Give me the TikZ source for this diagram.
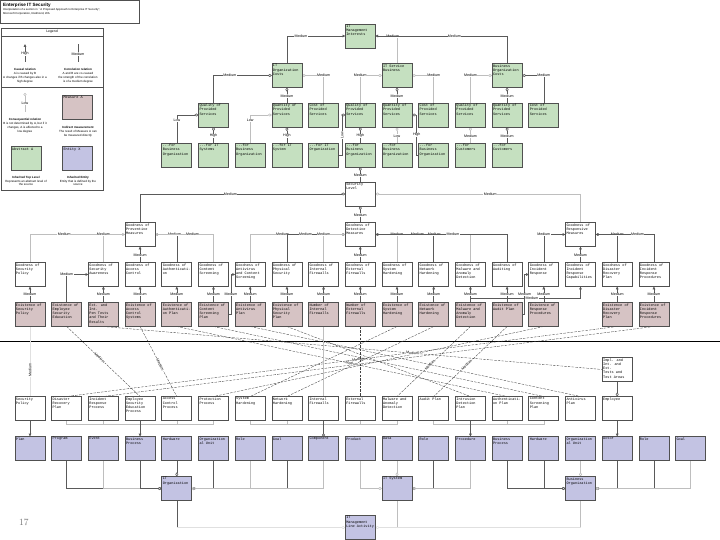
\documentclass[tikz,border=0pt]{standalone}
\usepackage{fontspec}
\newfontfamily\boxfont{Liberation Mono}
\newfontfamily\legendfont{Liberation Sans}
\usetikzlibrary{arrows.meta}
\definecolor{absGreen}{RGB}{197,224,192}
\definecolor{measPink}{RGB}{214,195,196}
\definecolor{entBlue}{RGB}{195,195,227}
\definecolor{boxGray}{RGB}{80,80,80}
\definecolor{edgeDark}{RGB}{90,90,90}
\definecolor{edgeLight}{RGB}{190,190,190}
\tikzset{
    BOX/.style={draw=boxGray, line width=0.7pt, shape=rectangle, inner sep=1pt,
        outer sep=0pt, font={\boxfont\fontsize{3.55}{4.3}\selectfont},
        execute at begin node={\begin{minipage}[t][22pt][t]{28pt}\raggedright},
        execute at end node={\end{minipage}}},
    GREEN_BOX/.style={BOX, fill=absGreen},
    PINK_BOX/.style={BOX, fill=measPink},
    BLUE_BOX/.style={BOX, fill=entBlue},
    WHITE_BOX/.style={BOX, fill=white},
    FRAME/.style={draw=boxGray, line width=0.5pt, shape=rectangle, inner sep=0pt},
    LEGEND_TEXT/.style={font={\legendfont\fontsize{3}{3.9}\selectfont}, align=center, inner sep=0pt},
    LABEL/.style={font={\legendfont\fontsize{3.6}{4}\selectfont}, fill=white, inner sep=0.4pt},
    EDGE/.style={draw=edgeDark, line width=0.6pt},
    LIGHT_EDGE/.style={draw=edgeLight, line width=0.6pt},
    FAINT_EDGE/.style={draw=black!12, line width=0.5pt},
    DASHED_EDGE/.style={draw=black!75, line width=0.35pt, dash pattern=on 2.5pt off 1.2pt},
    SPLIT_LINE/.style={draw=black, line width=1pt},
    CAUSE/.style={-{Triangle[length=2.8pt,width=2.6pt]}},
    COR/.style={-{Diamond[open,length=4.2pt,width=3pt]}},
    LOW/.style={-{Circle[open,length=3pt]}}
}
\pgfdeclarelayer{edgelayer}
\pgfdeclarelayer{nodelayer}
\pgfsetlayers{edgelayer,nodelayer,main}

\begin{document}
\begin{tikzpicture}[x=1pt, y=-1pt]
    \useasboundingbox (0,0) rectangle (720,540);
    \begin{pgfonlayer}{nodelayer}
        % title and legend
        \node [FRAME, minimum width=138.5pt, minimum height=22.5pt] (130) at (69.75, 11.75) {};
        \node [anchor=west, inner sep=0pt, font={\legendfont\bfseries\fontsize{4.6}{5}\selectfont}] (131) at (3, 5) {Enterprise IT Security};
        \node [anchor=north west, inner sep=0pt, align=left, font={\legendfont\fontsize{2.8}{4}\selectfont}] (132) at (3, 8) {Interpretation of a section in ``A Proposed Approach to Enterprise IT Security'',\\Microsoft Corporation, Redmond, WA};
        \node [FRAME, minimum width=102pt, minimum height=162pt] (120) at (52, 109) {};
        \node [LEGEND_TEXT, font={\legendfont\fontsize{3.4}{4}\selectfont}] (121) at (52, 31.5) {Legend};
        \coordinate (122) at (1, 36);
        \coordinate (123) at (103, 36);
        \coordinate (124) at (1, 87);
        \coordinate (125) at (103, 87);
        \coordinate (133) at (25, 44);
        \coordinate (134) at (25, 62);
        \coordinate (135) at (78, 44);
        \coordinate (136) at (78, 62);
        \coordinate (137) at (25, 93);
        \coordinate (138) at (25, 112);
        \node [LEGEND_TEXT] (139) at (25, 76) {\textbf{Causal relation}\\A is caused by B\\A changes if B changes also in a\\high degree};
        \node [LEGEND_TEXT] (140) at (78, 76) {\textbf{Correlation relation}\\A and B are co-caused\\the strength of the correlation\\is of a medium degree};
        \node [LEGEND_TEXT] (141) at (25, 126) {\textbf{Consequential relation}\\B is not determined by A, but if it\\changes, A is affected to a\\low degree};
        \node [PINK_BOX] (142) at (77.5, 107.5) {Measure A};
        \node [LEGEND_TEXT] (143) at (78, 132) {\textbf{Indirect measurement}\\The result of Measure A can\\be measured directly};
        \node [GREEN_BOX] (144) at (26, 158.5) {Abstract A};
        \node [BLUE_BOX] (145) at (77.5, 158.5) {Entity X};
        \node [LEGEND_TEXT] (146) at (26, 181) {\textbf{Inherited Top Level}\\Represents an abstract level of\\the source};
        \node [LEGEND_TEXT] (147) at (78, 181) {\textbf{Inherited Entity}\\Entity that is defined by the\\source};
        % interests
        \node [GREEN_BOX] (1) at (360.3, 36) {IT\\Management\\Interests};
        \node [GREEN_BOX] (2) at (286.9, 75.5) {IT\\Organization\\Costs};
        \node [GREEN_BOX] (3) at (397, 75.5) {IT Service\\Business};
        \node [GREEN_BOX] (4) at (507.1, 75.5) {Business\\Organization\\Costs};
        \node [GREEN_BOX] (5) at (213.5, 115) {Quality of\\Provided\\Services};
        \node [GREEN_BOX] (6) at (286.9, 115) {Quantity of\\Provided\\Services};
        \node [GREEN_BOX] (7) at (323.6, 115) {Cost of\\Provided\\Services};
        \node [GREEN_BOX] (8) at (360.3, 115) {Quality of\\Provided\\Services};
        \node [GREEN_BOX] (9) at (397, 115) {Quantity of\\Provided\\Services};
        \node [GREEN_BOX] (10) at (433.7, 115) {Cost of\\Provided\\Services};
        \node [GREEN_BOX] (11) at (470.4, 115) {Quality of\\Provided\\Services};
        \node [GREEN_BOX] (12) at (507.1, 115) {Quantity of\\Provided\\Services};
        \node [GREEN_BOX] (13) at (543.8, 115) {Cost of\\Provided\\Services};
        \node [GREEN_BOX] (14) at (176.8, 155) {...for\\Business\\Organization};
        \node [GREEN_BOX] (15) at (213.5, 155) {...for IT\\Systems};
        \node [GREEN_BOX] (16) at (250.2, 155) {...for\\Business\\Organization};
        \node [GREEN_BOX] (17) at (286.9, 155) {...for IT\\System};
        \node [GREEN_BOX] (18) at (323.6, 155) {...for IT\\Organization};
        \node [GREEN_BOX] (19) at (360.3, 155) {...for\\Business\\Organization};
        \node [GREEN_BOX] (20) at (397, 155) {...for\\Business\\Organization};
        \node [GREEN_BOX] (21) at (433.7, 155) {...for\\Business\\Organization};
        \node [GREEN_BOX] (22) at (470.4, 155) {...for\\Customers};
        \node [GREEN_BOX] (23) at (507.1, 155) {...for\\Customers};
        % measures
        \node [WHITE_BOX] (24) at (360.3, 194) {Security\\Level};
        \node [WHITE_BOX] (25) at (140.1, 234.5) {Goodness of\\Preventive\\Measures};
        \node [WHITE_BOX] (26) at (360.3, 234.5) {Goodness of\\Detective\\Measures};
        \node [WHITE_BOX] (27) at (580.5, 234.5) {Goodness of\\Responsive\\Measures};
        \node [WHITE_BOX] (30) at (30, 274.5) {Goodness of\\Security\\Policy};
        \node [WHITE_BOX] (32) at (103.4, 274.5) {Goodness of\\Security\\Awareness};
        \node [WHITE_BOX] (33) at (140.1, 274.5) {Goodness of\\Access\\Control};
        \node [WHITE_BOX] (34) at (176.8, 274.5) {Goodness of\\Authenticati-\\on};
        \node [WHITE_BOX] (35) at (213.5, 274.5) {Goodness of\\Content\\Screening};
        \node [WHITE_BOX] (36) at (250.2, 274.5) {Goodness of\\Antivirus\\and Content\\Screening};
        \node [WHITE_BOX] (37) at (286.9, 274.5) {Goodness of\\Physical\\Security};
        \node [WHITE_BOX] (38) at (323.6, 274.5) {Goodness of\\Internal\\Firewalls};
        \node [WHITE_BOX] (39) at (360.3, 274.5) {Goodness of\\External\\Firewalls};
        \node [WHITE_BOX] (40) at (397, 274.5) {Goodness of\\System\\Hardening};
        \node [WHITE_BOX] (41) at (433.7, 274.5) {Goodness of\\Network\\Hardening};
        \node [WHITE_BOX] (42) at (470.4, 274.5) {Goodness of\\Malware and\\Anomaly\\Detection};
        \node [WHITE_BOX] (43) at (507.1, 274.5) {Goodness of\\Auditing};
        \node [WHITE_BOX] (44) at (543.8, 274.5) {Goodness of\\Incident\\Response};
        \node [WHITE_BOX] (45) at (580.5, 274.5) {Goodness of\\Incident\\Response\\Capabilities};
        \node [WHITE_BOX] (46) at (617.2, 274.5) {Goodness of\\Disaster\\Recovery\\Plan};
        \node [WHITE_BOX] (47) at (653.9, 274.5) {Goodness of\\Incident\\Response\\Procedures};
        \node [PINK_BOX] (50) at (30, 314.5) {Existence of\\Security\\Policy};
        \node [PINK_BOX] (51) at (66.7, 314.5) {Existence of\\Employee\\Security\\Education};
        \node [PINK_BOX] (52) at (103.4, 314.5) {Ext. and Int.\\Pen Tests\\and Their\\Results};
        \node [PINK_BOX] (53) at (140.1, 314.5) {Existence of\\Access\\Control\\Systems};
        \node [PINK_BOX] (54) at (176.8, 314.5) {Existence of\\Authenticati-\\on Plan};
        \node [PINK_BOX] (55) at (213.5, 314.5) {Existence of\\Content\\Screening\\Plan};
        \node [PINK_BOX] (56) at (250.2, 314.5) {Existence of\\Antivirus\\Plan};
        \node [PINK_BOX] (57) at (286.9, 314.5) {Existence of\\Physical\\Security\\Plan};
        \node [PINK_BOX] (58) at (323.6, 314.5) {Number of\\Internal\\Firewalls};
        \node [PINK_BOX] (59) at (360.3, 314.5) {Number of\\External\\Firewalls};
        \node [PINK_BOX] (60) at (397, 314.5) {Existence of\\System\\Hardening};
        \node [PINK_BOX] (61) at (433.7, 314.5) {Existence of\\Network\\Hardening};
        \node [PINK_BOX] (62) at (470.4, 314.5) {Existence of\\Malware and\\Anomaly\\Detection};
        \node [PINK_BOX] (63) at (507.1, 314.5) {Existence of\\Audit Plan};
        \node [PINK_BOX] (64) at (543.8, 314.5) {Existence of\\Response\\Procedures};
        \node [PINK_BOX] (66) at (617.2, 314.5) {Existence of\\Disaster\\Recovery\\Plan};
        \node [PINK_BOX] (67) at (653.9, 314.5) {Existence of\\Incident\\Response\\Procedures};
        \coordinate (68) at (0, 341);
        \coordinate (69) at (720, 341);
        % entities
        \node [WHITE_BOX] (87) at (617.2, 369.5) {Impl. and\\Int. and Ext.\\Tests and\\Test Areas};
        \node [WHITE_BOX] (70) at (30, 408.5) {Security\\Policy};
        \node [WHITE_BOX] (71) at (66.7, 408.5) {Disaster\\Recovery\\Plan};
        \node [WHITE_BOX] (72) at (103.4, 408.5) {Incident\\Response\\Process};
        \node [WHITE_BOX] (73) at (140.1, 408.5) {Employee\\Security\\Education\\Process};
        \node [WHITE_BOX] (74) at (176.8, 408.5) {Access\\Control\\Process};
        \node [WHITE_BOX] (75) at (213.5, 408.5) {Protection\\Process};
        \node [WHITE_BOX] (76) at (250.2, 408.5) {System\\Hardening};
        \node [WHITE_BOX] (77) at (286.9, 408.5) {Network\\Hardening};
        \node [WHITE_BOX] (78) at (323.6, 408.5) {Internal\\Firewalls};
        \node [WHITE_BOX] (79) at (360.3, 408.5) {External\\Firewalls};
        \node [WHITE_BOX] (80) at (397, 408.5) {Malware and\\Anomaly\\Detection};
        \node [WHITE_BOX] (81) at (433.7, 408.5) {Audit Plan};
        \node [WHITE_BOX] (82) at (470.4, 408.5) {Intrusion\\Detection\\Plan};
        \node [WHITE_BOX] (83) at (507.1, 408.5) {Authenticati-\\on Plan};
        \node [WHITE_BOX] (84) at (543.8, 408.5) {Content\\Screening\\Plan};
        \node [WHITE_BOX] (85) at (580.5, 408.5) {Antivirus\\Plan};
        \node [WHITE_BOX] (86) at (617.2, 408.5) {Employee};
        \node [BLUE_BOX] (90) at (30, 448.5) {Plan};
        \node [BLUE_BOX] (91) at (66.7, 448.5) {Program};
        \node [BLUE_BOX] (92) at (103.4, 448.5) {Event};
        \node [BLUE_BOX] (93) at (140.1, 448.5) {Business\\Process};
        \node [BLUE_BOX] (94) at (176.8, 448.5) {Hardware};
        \node [BLUE_BOX] (95) at (213.5, 448.5) {Organization\\al Unit};
        \node [BLUE_BOX] (96) at (250.2, 448.5) {Role};
        \node [BLUE_BOX] (97) at (286.9, 448.5) {Goal};
        \node [BLUE_BOX] (98) at (323.6, 448.5) {Component};
        \node [BLUE_BOX] (99) at (360.3, 448.5) {Product};
        \node [BLUE_BOX] (100) at (397, 448.5) {Data};
        \node [BLUE_BOX] (101) at (433.7, 448.5) {Role};
        \node [BLUE_BOX] (102) at (470.4, 448.5) {Procedure};
        \node [BLUE_BOX] (103) at (507.1, 448.5) {Business\\Process};
        \node [BLUE_BOX] (104) at (543.8, 448.5) {Hardware};
        \node [BLUE_BOX] (105) at (580.5, 448.5) {Organization\\al Unit};
        \node [BLUE_BOX] (106) at (617.2, 448.5) {Actor};
        \node [BLUE_BOX] (107) at (653.9, 448.5) {Role};
        \node [BLUE_BOX] (108) at (690.6, 448.5) {Goal};
        \node [BLUE_BOX] (110) at (176.8, 488.5) {IT\\Organization};
        \node [BLUE_BOX] (111) at (397, 488.5) {IT System};
        \node [BLUE_BOX] (112) at (580.5, 488.5) {Business\\Organization};
        \node [BLUE_BOX] (113) at (360.3, 527.5) {IT\\Management\\Line Activity};
        \coordinate (114) at (140.1, 424);
        \coordinate (115) at (323.6, 424);
        \coordinate (116) at (470.4, 424);
        \coordinate (117) at (580.5, 298);
        \coordinate (118) at (176.8, 527.5);
        \coordinate (119) at (397, 527.5);
        \coordinate (148) at (580.5, 527.5);
        \node [text=black!55, font={\rmfamily\fontsize{9.5}{10}\selectfont}] (150) at (24, 522) {17};
    \end{pgfonlayer}
    \begin{pgfonlayer}{edgelayer}
        % legend
        \draw[FRAME] (122) to (123);
        \draw[FRAME] (124) to (125);
        \draw[EDGE, CAUSE] (134) -- (133) node[LABEL, pos=0.45] {High};
        \draw[EDGE] (136) -- (135) node[LABEL, pos=0.45] {Medium};
        \draw[LIGHT_EDGE, LOW] (138) -- (137) node[LABEL, pos=0.45] {Low};
        % interests
        \draw[EDGE, CAUSE] (2.north) |- (1.west) node[LABEL, pos=0.62] {Medium};
        \draw[LIGHT_EDGE, CAUSE] (3.north) |- (1.east) node[LABEL, pos=0.6] {Medium};
        \draw[EDGE, CAUSE] (4.north) |- (1.east) node[LABEL, pos=0.7] {Medium};
        \draw[EDGE, COR] (5.north) |- (2.west) node[LABEL, pos=0.64] {Medium};
        \draw[LIGHT_EDGE, COR] (7.north) |- (2.east) node[LABEL, pos=0.5] {Medium};
        \draw[EDGE, COR] (6.north) -- (2.south) node[LABEL, pos=0.45] {Medium};
        \draw[LIGHT_EDGE, COR] (8.north) |- (3.west) node[LABEL, pos=0.5] {Medium};
        \draw[LIGHT_EDGE, COR] (10.north) |- (3.east) node[LABEL, pos=0.5] {Medium};
        \draw[EDGE, COR] (9.north) -- (3.south) node[LABEL, pos=0.45] {Medium};
        \draw[LIGHT_EDGE, COR] (11.north) |- (4.west) node[LABEL, pos=0.5] {Medium};
        \draw[EDGE, COR] (13.north) |- (4.east) node[LABEL, pos=0.5] {Medium};
        \draw[EDGE, COR] (12.north) -- (4.south) node[LABEL, pos=0.45] {Medium};
        \draw[EDGE, COR] (14.north) |- (5.west) node[LABEL, pos=0.4] {Low};
        \draw[EDGE, COR] (15.north) -- (5.south) node[LABEL, pos=0.45] {High};
        \draw[LIGHT_EDGE, COR] (16.north) |- (6.west) node[LABEL, pos=0.4] {Low};
        \draw[EDGE, COR] (17.north) -- (6.south) node[LABEL, pos=0.45] {High};
        \draw[EDGE, COR] (18.east) -- ++(3.5,0) |- (8.west) node[LABEL, rotate=90, pos=0.25] {Low};
        \draw[EDGE, COR] (19.north) -- (8.south) node[LABEL, pos=0.45] {High};
        \draw[LIGHT_EDGE, COR] (20.north) -- (9.south) node[LABEL, pos=0.45] {Low};
        \draw[EDGE, COR] (21.west) -- ++(-2,0) |- (9.east) node[LABEL, pos=0.25] {High};
        \draw[LIGHT_EDGE, COR] (22.north) -- (11.south) node[LABEL, pos=0.45] {Medium};
        \draw[EDGE, COR] (23.north) -- (12.south) node[LABEL, pos=0.45] {Medium};
        \draw[EDGE, COR] (24.north) -- (19.south) node[LABEL, pos=0.45] {Medium};
        % measures
        \draw[EDGE, COR] (25.north) |- (24.west) node[LABEL, pos=0.72] {Medium};
        \draw[LIGHT_EDGE, COR] (27.north) |- (24.east) node[LABEL, pos=0.72] {Medium};
        \draw[EDGE, COR] (26.north) -- (24.south) node[LABEL, pos=0.45] {Medium};
        \draw[LIGHT_EDGE, CAUSE] (30.north) |- (25.west) node[LABEL, pos=0.68] {Medium};
        \draw[LIGHT_EDGE, CAUSE] (32.north) |- (25.west) node[LABEL, pos=0.5] {Medium};
        \draw[EDGE, CAUSE] (33.north) -- (25.south) node[LABEL, pos=0.45] {Medium};
        \draw[EDGE, CAUSE] (34.north) |- (25.east) node[LABEL, pos=0.55] {Medium};
        \draw[LIGHT_EDGE, CAUSE] (35.north) |- (25.east) node[LABEL, pos=0.68] {Medium};
        \draw[LIGHT_EDGE, CAUSE] (36.north) |- (26.west) node[LABEL, pos=0.67] {Medium};
        \draw[EDGE, CAUSE] (37.north) |- (26.west) node[LABEL, pos=0.66] {Medium};
        \draw[LIGHT_EDGE, CAUSE] (38.north) |- (26.west) node[LABEL, pos=0.5] {Medium};
        \draw[EDGE, CAUSE] (39.north) -- (26.south) node[LABEL, pos=0.45] {Medium};
        \draw[LIGHT_EDGE, CAUSE] (40.north) |- (26.east) node[LABEL, pos=0.5] {Medium};
        \draw[EDGE, CAUSE] (41.north) |- (26.east) node[LABEL, pos=0.64] {Medium};
        \draw[LIGHT_EDGE, CAUSE] (42.north) |- (26.east) node[LABEL, pos=0.69] {Medium};
        \draw[EDGE, CAUSE] (43.north) |- (26.east) node[LABEL, pos=0.705] {Medium};
        \draw[EDGE, CAUSE] (44.north) |- (27.west) node[LABEL, pos=0.5] {Medium};
        \draw[EDGE, CAUSE] (45.north) -- (27.south) node[LABEL, pos=0.45] {Medium};
        \draw[EDGE, CAUSE] (46.north) |- (27.east) node[LABEL, pos=0.5] {Medium};
        \draw[EDGE, CAUSE] (47.north) |- (27.east) node[LABEL, pos=0.64] {Medium};
        \draw[EDGE, CAUSE] (50) to node[LABEL] {Medium} (30);
        \draw[EDGE, CAUSE] (52) to node[LABEL] {Medium} (32);
        \draw[EDGE, CAUSE] (53) to node[LABEL] {Medium} (33);
        \draw[EDGE, CAUSE] (54) to node[LABEL] {Medium} (34);
        \draw[EDGE, CAUSE] (55) to node[LABEL] {Medium} (35);
        \draw[EDGE, CAUSE] (56) to node[LABEL] {Medium} (36);
        \draw[EDGE, CAUSE] (57) to node[LABEL] {Medium} (37);
        \draw[EDGE, CAUSE] (58) to node[LABEL] {Medium} (38);
        \draw[EDGE, CAUSE] (59) to node[LABEL] {Medium} (39);
        \draw[EDGE, CAUSE] (60) to node[LABEL] {Medium} (40);
        \draw[EDGE, CAUSE] (61) to node[LABEL] {Medium} (41);
        \draw[EDGE, CAUSE] (62) to node[LABEL] {Medium} (42);
        \draw[EDGE, CAUSE] (63) to node[LABEL] {Medium} (43);
        \draw[EDGE, CAUSE] (64) to node[LABEL] {Medium} (44);
        \draw[EDGE, CAUSE] (66) to node[LABEL] {Medium} (46);
        \draw[EDGE, CAUSE] (67) to node[LABEL] {Medium} (47);
        \draw[EDGE, CAUSE] (51.north) |- (32.west) node[LABEL, pos=0.5] {Medium};
        \draw[EDGE, CAUSE] (55.east) -- ++(2.5,0) |- (36.west) node[LABEL, pos=0.25] {Medium};
        \draw[EDGE, CAUSE] (63.east) -- ++(2.5,0) |- (44.west) node[LABEL, pos=0.25] {Medium};
        \draw[EDGE] (62.north) |- node[LABEL, pos=0.78] {Medium} (117);
        \draw[EDGE, CAUSE] (117) to (45);
        % measured entities
        \draw[SPLIT_LINE] (68) to (69);
        \draw[FAINT_EDGE, line width=0.35pt] (50) to node[LABEL, rotate=90, pos=0.62] {Medium} (70);
        \draw[DASHED_EDGE] (51.south) -- (73.north) node[LABEL, sloped, pos=0.45] {Medium};
        \draw[DASHED_EDGE] (53.south) -- (74.north) node[LABEL, sloped, pos=0.55] {Medium};
        \draw[DASHED_EDGE] (66.south) -- (71.north) node[LABEL, sloped, pos=0.47] {Medium};
        \draw[DASHED_EDGE] (67.south) -- (72.north);
        \draw[DASHED_EDGE] (60.south) -- (76.north);
        \draw[DASHED_EDGE] (61.south) -- (77.north);
        \draw[DASHED_EDGE] (62.south) -- (80.north) node[LABEL, sloped, pos=0.55] {Medium};
        \draw[DASHED_EDGE] (63.south) -- (81.north) node[LABEL, sloped, pos=0.55] {Medium};
        \draw[DASHED_EDGE] (54.south) -- (83.north) node[LABEL, sloped, pos=0.53] {Medium};
        \draw[DASHED_EDGE] (55.south) -- (84.north);
        \draw[DASHED_EDGE] (56.south) -- (85.north);
        \draw[DASHED_EDGE] (57.south) -- (82.north);
        \draw[DASHED_EDGE] (64.south) -- (75.north);
        \draw[DASHED_EDGE] (52.south) -- (87.west) node[LABEL, sloped, pos=0.62] {Medium};
        \draw[LIGHT_EDGE, line width=0.4pt] (58) to (78);
        \draw[DASHED_EDGE] (59.south) -- (79.north);
        % entity groups
        \draw[EDGE, CAUSE] (70) to (90);
        \draw[LIGHT_EDGE] (71.south) |- (114);
        \draw[LIGHT_EDGE] (72.south) |- (114);
        \draw[LIGHT_EDGE] (74.south) |- (114);
        \draw[LIGHT_EDGE] (75.south) |- (114);
        \draw[EDGE, CAUSE] (73) to (93);
        \draw[LIGHT_EDGE] (76.south) |- (115);
        \draw[LIGHT_EDGE] (77.south) |- (115);
        \draw[LIGHT_EDGE] (79.south) |- (115);
        \draw[LIGHT_EDGE] (80.south) |- (115);
        \draw[EDGE, LOW] (78) to (98);
        \draw[LIGHT_EDGE] (81.south) |- (116);
        \draw[LIGHT_EDGE] (83.south) |- (116);
        \draw[LIGHT_EDGE] (84.south) |- (116);
        \draw[EDGE, CAUSE] (82) to (102);
        \draw[EDGE, CAUSE] (86) to (106);
        \draw[EDGE, COR] (87) to (86);
        \draw[EDGE, COR] (94) to (110);
        \draw[EDGE, COR] (91.south) |- (110.west);
        \draw[LIGHT_EDGE, COR] (92.south) |- (110.west);
        \draw[EDGE, COR] (93.south) |- (110.west);
        \draw[EDGE, COR] (95.south) |- (110.east);
        \draw[LIGHT_EDGE, COR] (96.south) |- (110.east);
        \draw[EDGE, COR] (97.south) |- (110.east);
        \draw[LIGHT_EDGE, COR] (98.south) |- (110.east);
        \draw[LIGHT_EDGE, COR] (100) to (111);
        \draw[LIGHT_EDGE, COR] (99.south) |- (111.west);
        \draw[EDGE, COR] (101.south) |- (111.east);
        \draw[LIGHT_EDGE, COR] (102.south) |- (111.east);
        \draw[LIGHT_EDGE, COR] (105) to (112);
        \draw[EDGE, COR] (103.south) |- (112.west);
        \draw[EDGE, COR] (104.south) |- (112.west);
        \draw[EDGE, COR] (106.south) |- (112.east);
        \draw[EDGE, COR] (107.south) |- (112.east);
        \draw[LIGHT_EDGE, COR] (108.south) |- (112.east);
        \draw[EDGE] (110) to (118);
        \draw[FAINT_EDGE, COR] (118) to (113.west);
        \draw[LIGHT_EDGE] (111) to (119);
        \draw[LIGHT_EDGE] (112) to (148);
        \draw[FAINT_EDGE, COR] (148) to (113.east);
    \end{pgfonlayer}
\end{tikzpicture}
\end{document}
